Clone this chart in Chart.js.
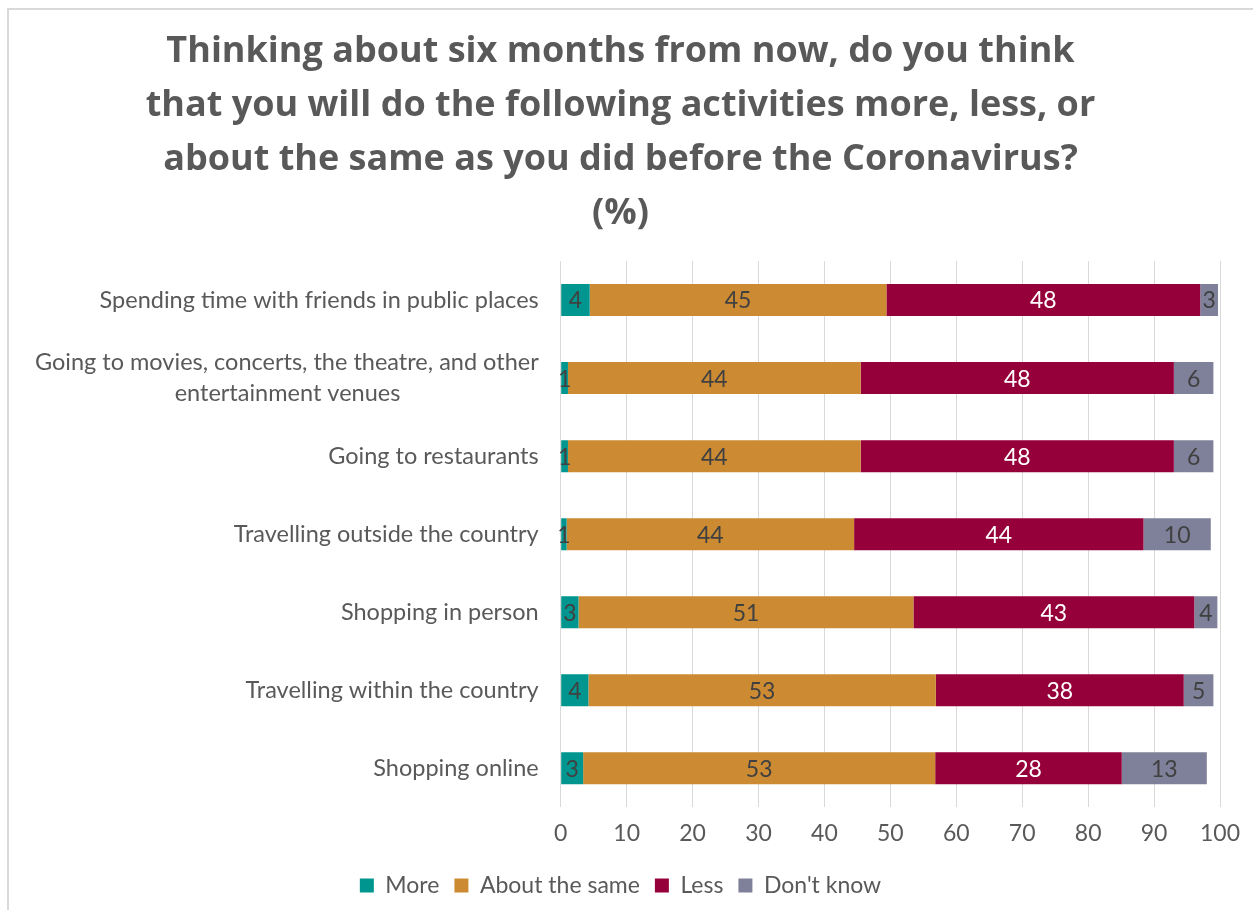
<!DOCTYPE html>
<html>
<head>
<meta charset="utf-8">
<script src="https://cdn.jsdelivr.net/npm/chart.js@4.4.1/dist/chart.umd.min.js"></script>
<style>
  body { margin: 0; background: #fff; }
  #wrap { position: relative; width: 1253px; height: 910px; }
  #frame { position: absolute; left: 7px; top: 8px; right: 0; bottom: 0; border-top: 2px solid #d9d9d9; border-left: 2px solid #d9d9d9; pointer-events: none; }
</style>
</head>
<body>
<div id="wrap">
  <canvas id="myBars"></canvas>
  <div id="frame"></div>
</div>
<script>
const categories = [
    'Spending time with friends in public places',
    ['Going to movies, concerts, the theatre, and other', 'entertainment venues'],
    'Going to restaurants',
    'Travelling outside the country',
    'Shopping in person',
    'Travelling within the country',
    'Shopping online'
];
const more = [4.4, 1.1, 1.1, 0.9, 2.7, 4.2, 3.4];
const aboutSame = [45.0, 44.4, 44.4, 43.6, 50.8, 52.7, 53.4];
const less = [47.6, 47.5, 47.5, 43.9, 42.6, 37.6, 28.3];
const dontKnow = [2.7, 6.0, 6.0, 10.2, 3.5, 4.5, 12.9];
const titleLines = [
    'Thinking about six months from now, do you think',
    'that you will do the following activities more, less, or',
    'about the same as you did before the Coronavirus?',
    '(%)'
];

const textGray = '#595959';
const labelFont = 'Lato, "Open Sans", sans-serif';
const yFontSize = 23.5;

// the second line of a wrapped label sits centred under the first, like in Excel
function centreLines(lines) {
    const m = document.createElement('canvas').getContext('2d');
    m.font = yFontSize + 'px ' + labelFont;
    const full = m.measureText(lines[0]).width;
    let second = lines[1];
    const target = m.measureText(second).width + (full - m.measureText(second).width) / 2;
    while (m.measureText(second + ' ').width <= target) second += ' ';
    return [lines[0], second];
}
const yLabels = categories.map(c => Array.isArray(c) ? centreLines(c) : c);

// draws the rounded value in the middle of each bar piece
const barLabels = {
    id: 'barLabels',
    afterDatasetsDraw(chart) {
        const c = chart.ctx;
        c.save();
        c.font = '23px ' + labelFont;
        c.textAlign = 'center';
        c.textBaseline = 'middle';
        chart.data.datasets.forEach((ds, i) => {
            const meta = chart.getDatasetMeta(i);
            c.fillStyle = ds.labelColor;
            meta.data.forEach((bar, j) => {
                c.fillText(Math.round(ds.data[j]), (bar.x + bar.base) / 2, bar.y + 1);
            });
        });
        c.restore();
    }
};

const ctx = document.getElementById('myBars').getContext('2d');
const myChart = new Chart(ctx, {
    type: 'bar',
    data: {
        labels: yLabels,
        datasets: [
            { label: 'More', data: more, backgroundColor: '#00968f', labelColor: '#404040' },
            { label: 'About the same', data: aboutSame, backgroundColor: '#cc8b33', labelColor: '#404040' },
            { label: 'Less', data: less, backgroundColor: '#96003a', labelColor: '#ffffff' },
            { label: "Don't know", data: dontKnow, backgroundColor: '#7f8099', labelColor: '#404040' }
        ]
    },
    options: {
        indexAxis: 'y',
        responsive: true,
        maintainAspectRatio: false,
        animation: false,
        categoryPercentage: 1.0,
        barPercentage: 0.41,
        layout: { padding: { left: 21, right: 33, top: 15, bottom: 3 } },
        scales: {
            x: {
                stacked: true,
                min: 0,
                max: 100,
                ticks: { stepSize: 10, color: textGray, font: { family: labelFont, size: 23 }, padding: 12 },
                grid: { color: '#d9d9d9', drawTicks: false },
                border: { display: false }
            },
            y: {
                stacked: true,
                ticks: { color: textGray, font: { family: labelFont, size: yFontSize, lineHeight: 1.3 }, padding: 14 },
                grid: { display: false },
                border: { display: false }
            }
        },
        plugins: {
            title: {
                display: true,
                text: titleLines,
                color: textGray,
                font: { family: '"Open Sans", sans-serif', size: 36, weight: 'bold', lineHeight: 1.5 },
                padding: { top: 10, bottom: 20 }
            },
            legend: {
                position: 'bottom',
                labels: {
                    color: textGray,
                    font: { family: labelFont, size: 23 },
                    boxWidth: 14,
                    boxHeight: 14,
                    padding: 15
                }
            },
            tooltip: { enabled: false }
        }
    },
    plugins: [barLabels]
});
</script>
</body>
</html>
